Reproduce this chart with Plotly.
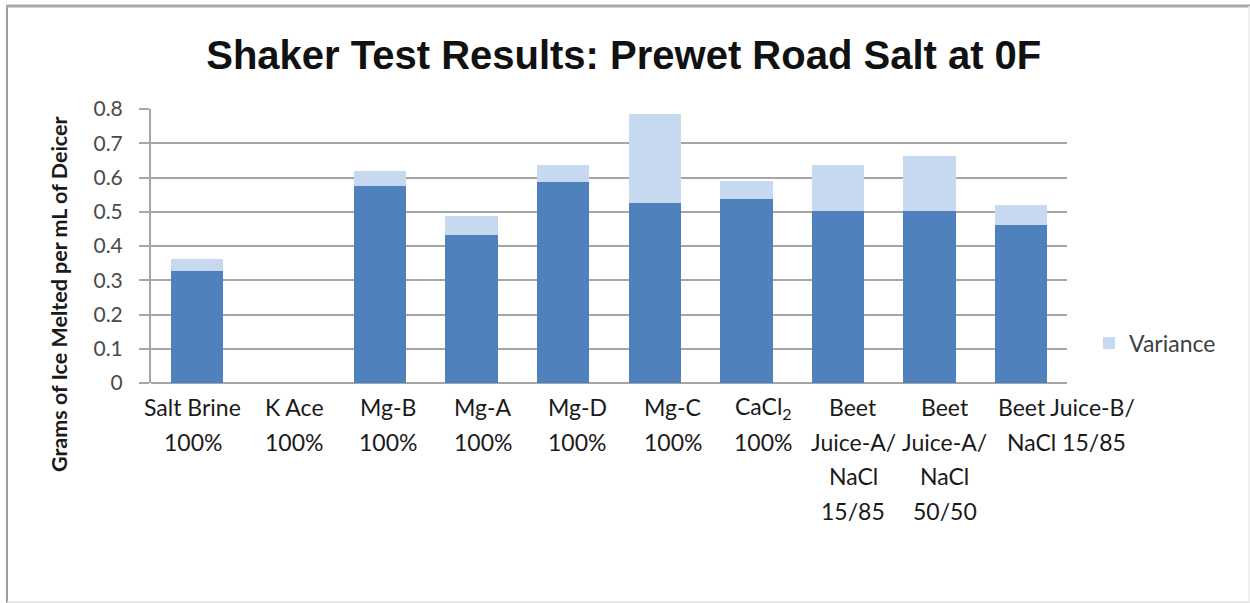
import plotly.graph_objects as go

# Deicer products tested (label lines as shown under each bar)
label_lines = [
    ["Salt Brine", "100%"],
    ["K Ace", "100%"],
    ["Mg-B", "100%"],
    ["Mg-A", "100%"],
    ["Mg-D", "100%"],
    ["Mg-C", "100%"],
    ["CaCl<sub>2</sub>", "100%"],
    ["Beet", "Juice-A/", "NaCl", "15/85"],
    ["Beet", "Juice-A/", "NaCl", "50/50"],
    ["Beet Juice-B/", "NaCl 15/85"],
]
categories = ["Salt Brine", "K Ace", "Mg-B", "Mg-A", "Mg-D", "Mg-C", "CaCl2",
              "Beet Juice-A/NaCl 15/85", "Beet Juice-A/NaCl 50/50",
              "Beet Juice-B/NaCl 15/85"]

# Grams of ice melted per mL of deicer (lower value) and the variance band on top
melt_low = [0.326, None, 0.576, 0.433, 0.586, 0.527, 0.538, 0.501, 0.501, 0.462]
variance = [0.036, None, 0.042, 0.056, 0.051, 0.259, 0.053, 0.136, 0.163, 0.059]

y_ticks = [0, 0.1, 0.2, 0.3, 0.4, 0.5, 0.6, 0.7, 0.8]
y_tick_text = ["0", "0.1", "0.2", "0.3", "0.4", "0.5", "0.6", "0.7", "0.8"]

# Layout geometry (pixels)
W, H = 1250, 603
ML, MR, MT, MB = 151, 183, 109, 220
PW, PH = W - ML - MR, H - MT - MB

DARK = "#4F81BD"
LIGHT = "#C6D9F1"
GRID = "#A6A6A6"
FONT = "Lato"

# small horizontal nudges for the category label blocks
label_xshift = [-4, 6, 8, 11, 14, 18, 17, 15, 15, 45]


def px_x(px):
    return (px - ML) / PW


def px_y(py):
    return (H - MB - py) / PH


fig = go.Figure()
fig.add_trace(go.Bar(
    x=categories, y=melt_low, name="Melted",
    marker=dict(color=DARK, line=dict(width=0)),
    showlegend=False,
))
fig.add_trace(go.Bar(
    x=categories, y=variance, name="Variance",
    marker=dict(color=LIGHT, line=dict(width=0)),
))

annotations = []
for i, (cat, lines) in enumerate(zip(categories, label_lines)):
    for j, line in enumerate(lines):
        annotations.append(dict(
            x=cat, xref="x", y=0, yref="paper",
            text=line, showarrow=False,
            xanchor="center", yanchor="middle",
            yshift=-(24 + 34.5 * j), xshift=label_xshift[i],
            font=dict(family=FONT, size=23, color="#1a1a1a"),
        ))

# y axis title
annotations.append(dict(
    x=px_x(59), xref="paper", y=px_y(294), yref="paper",
    text="Grams of Ice Melted per mL of Deicer", textangle=-90,
    showarrow=False, xanchor="center", yanchor="middle",
    font=dict(family=FONT, size=21.5, color="#1a1a1a", weight="bold"),
))

shapes = [
    # chart frame
    dict(type="line", xref="paper", yref="paper",
         x0=px_x(7), x1=px_x(7), y0=px_y(6), y1=px_y(603),
         line=dict(color="#9E9E9E", width=2)),
    dict(type="line", xref="paper", yref="paper",
         x0=px_x(6), x1=px_x(1250), y0=px_y(6), y1=px_y(6),
         line=dict(color="#A8A8A8", width=3)),
    dict(type="line", xref="paper", yref="paper",
         x0=px_x(7), x1=px_x(1250), y0=px_y(602), y1=px_y(602),
         line=dict(color="#E0E0E0", width=1.5)),
    dict(type="line", xref="paper", yref="paper",
         x0=px_x(1249), x1=px_x(1249), y0=px_y(6), y1=px_y(603),
         line=dict(color="#EBEBEB", width=1.5)),
]

fig.update_layout(
    width=W, height=H,
    margin=dict(l=ML, r=MR, t=MT, b=MB),
    paper_bgcolor="white", plot_bgcolor="white",
    barmode="stack", bargap=0.43,
    title=dict(
        text="<b>Shaker Test Results: Prewet Road Salt at 0F</b>",
        x=0.499, xref="container", xanchor="center",
        y=1 - 55 / H, yref="container", yanchor="middle",
        font=dict(family="Liberation Sans Narrow, Arial Narrow, sans-serif",
                  size=40, color="#111111"),
    ),
    legend=dict(
        x=px_x(1089), y=px_y(343), xanchor="left", yanchor="middle",
        font=dict(family=FONT, size=23, color="#404040"),
        bgcolor="rgba(0,0,0,0)", itemwidth=30,
    ),
    xaxis=dict(
        type="category", categoryorder="array", categoryarray=categories,
        range=[-0.5, len(categories) - 0.5],
        showticklabels=False, showgrid=False, zeroline=False,
        showline=False, ticks="",
    ),
    yaxis=dict(
        range=[0, 0.8], tickvals=y_ticks, ticktext=y_tick_text,
        showgrid=True, gridcolor=GRID, gridwidth=2,
        zeroline=True, zerolinecolor=GRID, zerolinewidth=2,
        showline=True, linecolor=GRID, linewidth=2,
        ticks="outside", ticklen=10, tickcolor=GRID, tickwidth=2,
        ticklabelstandoff=12,
        tickfont=dict(family=FONT, size=21, color="#4a4a4a"),
    ),
    annotations=annotations,
    shapes=shapes,
)

fig.write_html("out.html")
